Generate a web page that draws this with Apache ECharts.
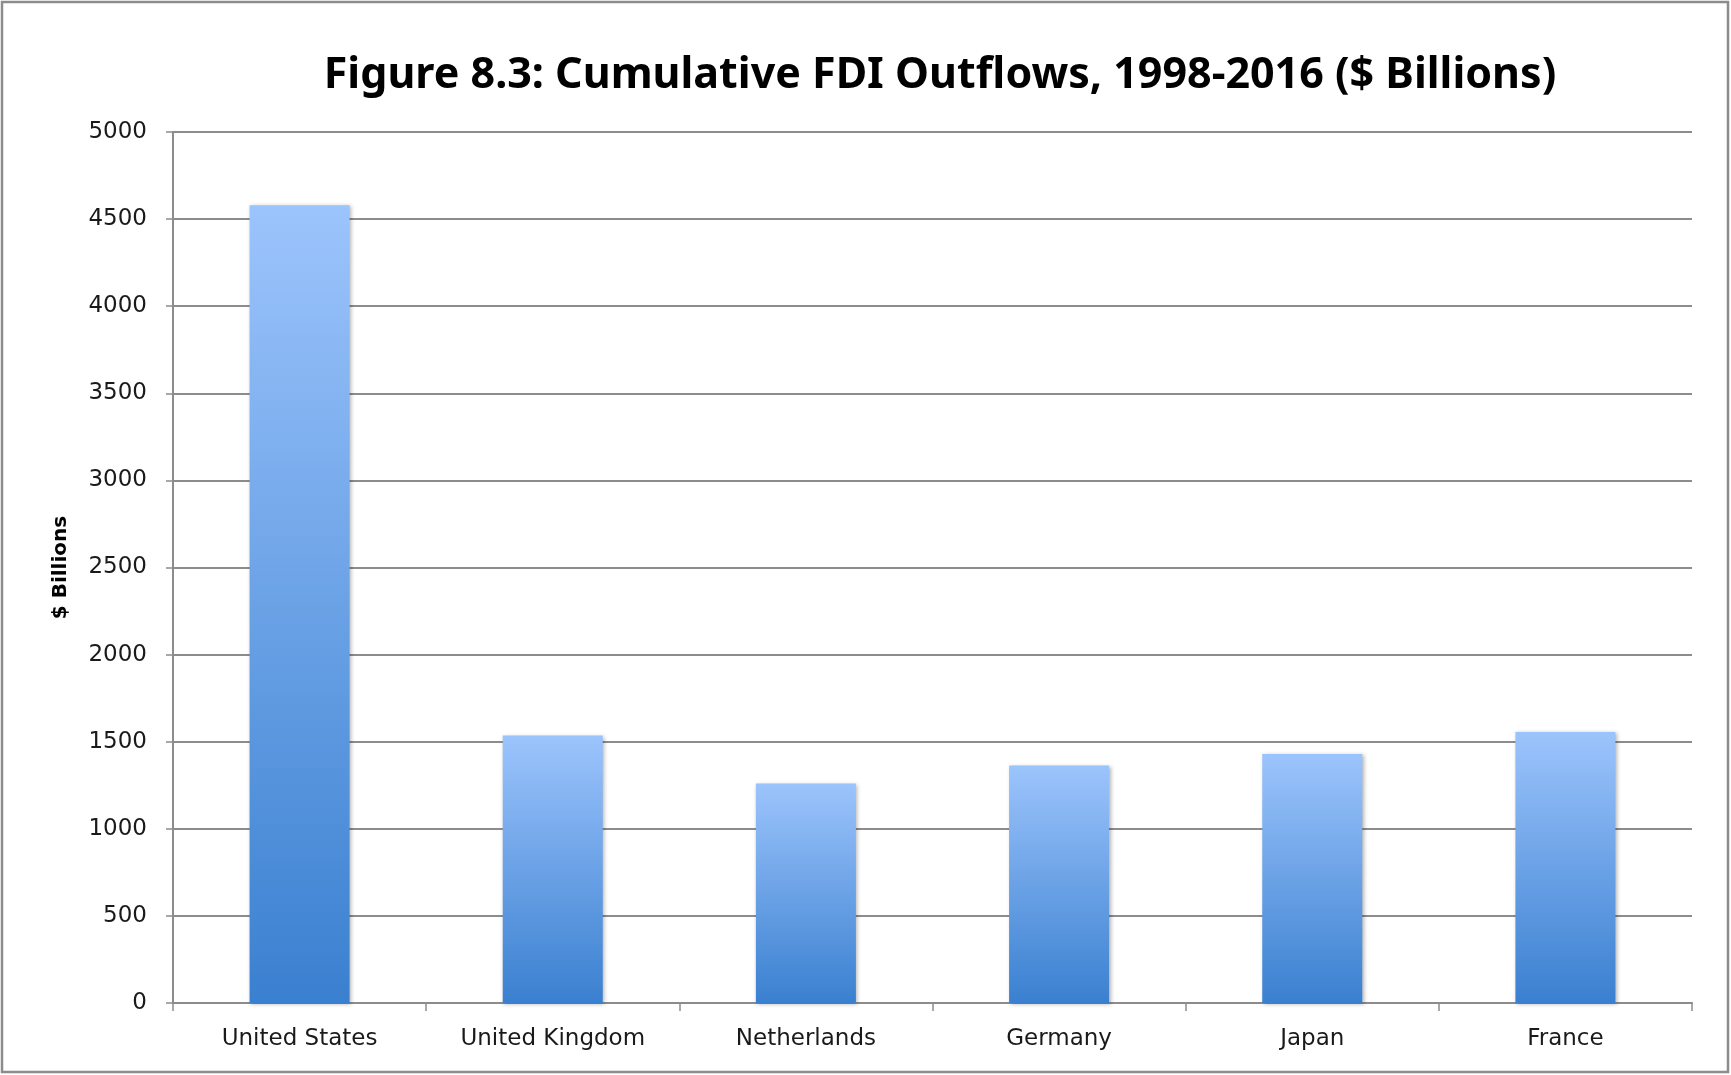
<!DOCTYPE html>
<html>
<head>
<meta charset="utf-8">
<script src="https://cdn.jsdelivr.net/npm/echarts@6/dist/echarts.min.js"></script>
<style>
html,body{margin:0;padding:0;background:#fff;}
#chart{width:1731px;height:1075px;}
</style>
</head>
<body>
<div id="chart"></div>
<script>
const categories = ['United States', 'United Kingdom', 'Netherlands', 'Germany', 'Japan', 'France'];
const fdiOutflows = [4580, 1535, 1260, 1363, 1430, 1555];
const yTicks = [0, 500, 1000, 1500, 2000, 2500, 3000, 3500, 4000, 4500, 5000];

const chart = echarts.init(document.getElementById('chart'));
chart.setOption({
  animation: false,
  backgroundColor: '#fff',
  title: {
    text: 'Figure 8.3: Cumulative FDI Outflows, 1998-2016 ($ Billions)',
    left: 935, top: 49, textAlign: 'center',
    textStyle: { fontFamily: 'Noto Sans', fontWeight: 'bold', fontSize: 43, color: '#000' }
  },
  graphic: [{
    type: 'rect', silent: true, z: -1,
    shape: { x: 2, y: 2, width: 1726, height: 1070 },
    style: { fill: 'none', stroke: '#8c8c8c', lineWidth: 2.5 }
  }],
  grid: { left: 173, right: 39, top: 132, bottom: 72 },
  xAxis: {
    type: 'category',
    data: categories,
    axisLine: { lineStyle: { color: '#8c8c8c', width: 2 } },
    axisTick: { show: true, length: 8, lineStyle: { color: '#8c8c8c', width: 1.5 } },
    axisLabel: { margin: 25, color: '#1a1a1a', fontFamily: 'DejaVu Sans', fontSize: 23 }
  },
  yAxis: {
    type: 'value',
    min: yTicks[0], max: yTicks[yTicks.length - 1], interval: 500,
    name: '$ Billions',
    nameLocation: 'middle',
    nameGap: 102,
    nameRotate: 90,
    nameTextStyle: { fontFamily: 'DejaVu Sans', fontWeight: 'bold', fontSize: 20, color: '#000' },
    axisLine: { show: true, lineStyle: { color: '#8c8c8c', width: 2 } },
    axisTick: { show: true, length: 7, lineStyle: { color: '#8c8c8c', width: 1.5 } },
    axisLabel: { margin: 26, color: '#1a1a1a', fontFamily: 'DejaVu Sans', fontSize: 23,
      formatter: v => String(v) },
    splitLine: { lineStyle: { color: '#8c8c8c', width: 2 } }
  },
  series: [{
    type: 'bar',
    data: fdiOutflows,
    barWidth: 100,
    itemStyle: {
      color: new echarts.graphic.LinearGradient(0, 0, 0, 1, [
        { offset: 0, color: '#9cc4fc' },
        { offset: 1, color: '#3a80d0' }
      ]),
      shadowColor: 'rgba(0,0,0,0.3)', shadowBlur: 4, shadowOffsetX: 1.5, shadowOffsetY: 1
    }
  }]
});
</script>
</body>
</html>
